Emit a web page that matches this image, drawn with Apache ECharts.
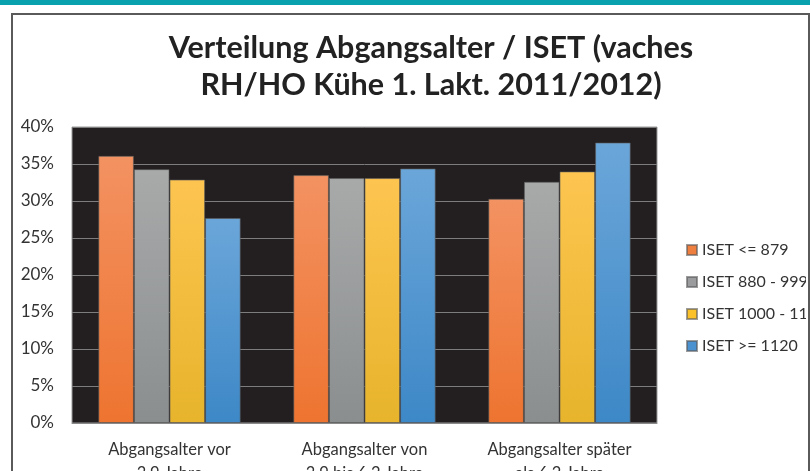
<!DOCTYPE html>
<html><head><meta charset="utf-8">
<script src="https://cdn.jsdelivr.net/npm/echarts@6/dist/echarts.min.js"></script>
<style>
html,body{margin:0;padding:0;background:#fff;width:810px;height:471px;overflow:hidden;}
#band{position:absolute;left:0;top:0;width:810px;height:5px;background:#0aa1ae;}
#frame{position:absolute;left:11px;top:13px;width:795px;height:470px;border:2px solid #5a5a5a;border-bottom:none;}
#clip{position:absolute;left:13px;top:15px;width:793px;height:456px;overflow:hidden;}
#chart{position:absolute;left:-13px;top:-15px;width:810px;height:471px;}
</style></head>
<body>
<div id="band"></div>
<div id="frame"></div>
<div id="clip"><div id="chart"></div></div>
<script>
const titleLines = ['Verteilung Abgangsalter / ISET (vaches', 'RH/HO Kühe 1. Lakt. 2011/2012)'];
const categories = ['Abgangsalter vor\n3.9 Jahre', 'Abgangsalter von\n3.9 bis 6.2 Jahre', 'Abgangsalter später\nals 6.2 Jahre'];
const seriesNames = ['ISET <= 879', 'ISET 880 - 999', 'ISET 1000 - 1119', 'ISET >= 1120'];
const iset879 = [36.1, 33.5, 30.3];
const iset880_999 = [34.3, 33.1, 32.6];
const iset1000_1119 = [32.9, 33.1, 34.0];
const iset1120 = [27.7, 34.4, 37.9];
const yTicks = [0, 5, 10, 15, 20, 25, 30, 35, 40];

const values = [iset879, iset880_999, iset1000_1119, iset1120];
const gradients = [
  ['#f39262', '#ee7430'],
  ['#a8aaaa', '#8b8e8f'],
  ['#fdc550', '#e7b42c'],
  ['#6ba6d9', '#3d88c7']
];
const solid = ['#ef7f3f', '#9a9c9d', '#fbc12a', '#4b92d0'];

const chart = echarts.init(document.getElementById('chart'), null, {renderer: 'canvas'});
chart.setOption({
  animation: false,
  backgroundColor: 'transparent',
  title: {
    text: titleLines.join('\n'),
    left: 426, top: 25, textAlign: 'center',
    textStyle: {fontFamily: 'Lato', fontWeight: 'bold', fontSize: 30.5, color: '#222', lineHeight: 37}
  },
  legend: {
    orient: 'vertical', left: 681, top: 237,
    itemWidth: 10, itemHeight: 10, itemGap: 16,
    icon: 'rect',
    textStyle: {fontFamily: 'Lato', fontSize: 16, color: '#333'},
    data: seriesNames.map((n, i) => ({name: n, itemStyle: {color: solid[i]}}))
  },
  grid: {left: 72, top: 127, right: 153, bottom: 48, outerBoundsMode: 'none', containLabel: false,
         show: true, backgroundColor: '#231f20', borderColor: '#9a9a9a', borderWidth: 1},
  xAxis: {
    type: 'category', data: categories,
    axisLine: {show: true, lineStyle: {color: '#8a8a8a'}},
    axisTick: {show: false},
    axisLabel: {fontFamily: 'Lato', fontSize: 16.5, color: '#333', margin: 15, lineHeight: 24, interval: 0}
  },
  yAxis: {
    type: 'value', min: yTicks[0], max: yTicks[yTicks.length - 1], interval: 5,
    axisLine: {show: false}, axisTick: {show: false},
    splitLine: {lineStyle: {color: '#7d7d7d', width: 1}},
    axisLabel: {formatter: v => v + '%', fontFamily: 'Lato', fontSize: 17, color: '#333', margin: 18}
  },
  series: values.map((d, i) => ({
    name: seriesNames[i], type: 'bar', data: d,
    barGap: '0%', barCategoryGap: '27%',
    itemStyle: {
      color: new echarts.graphic.LinearGradient(0, 0, 0, 1, [{offset: 0, color: gradients[i][0]}, {offset: 1, color: gradients[i][1]}]),
      borderColor: 'rgba(90,90,90,0.6)', borderWidth: 1
    }
  }))
});
</script>
</body></html>
